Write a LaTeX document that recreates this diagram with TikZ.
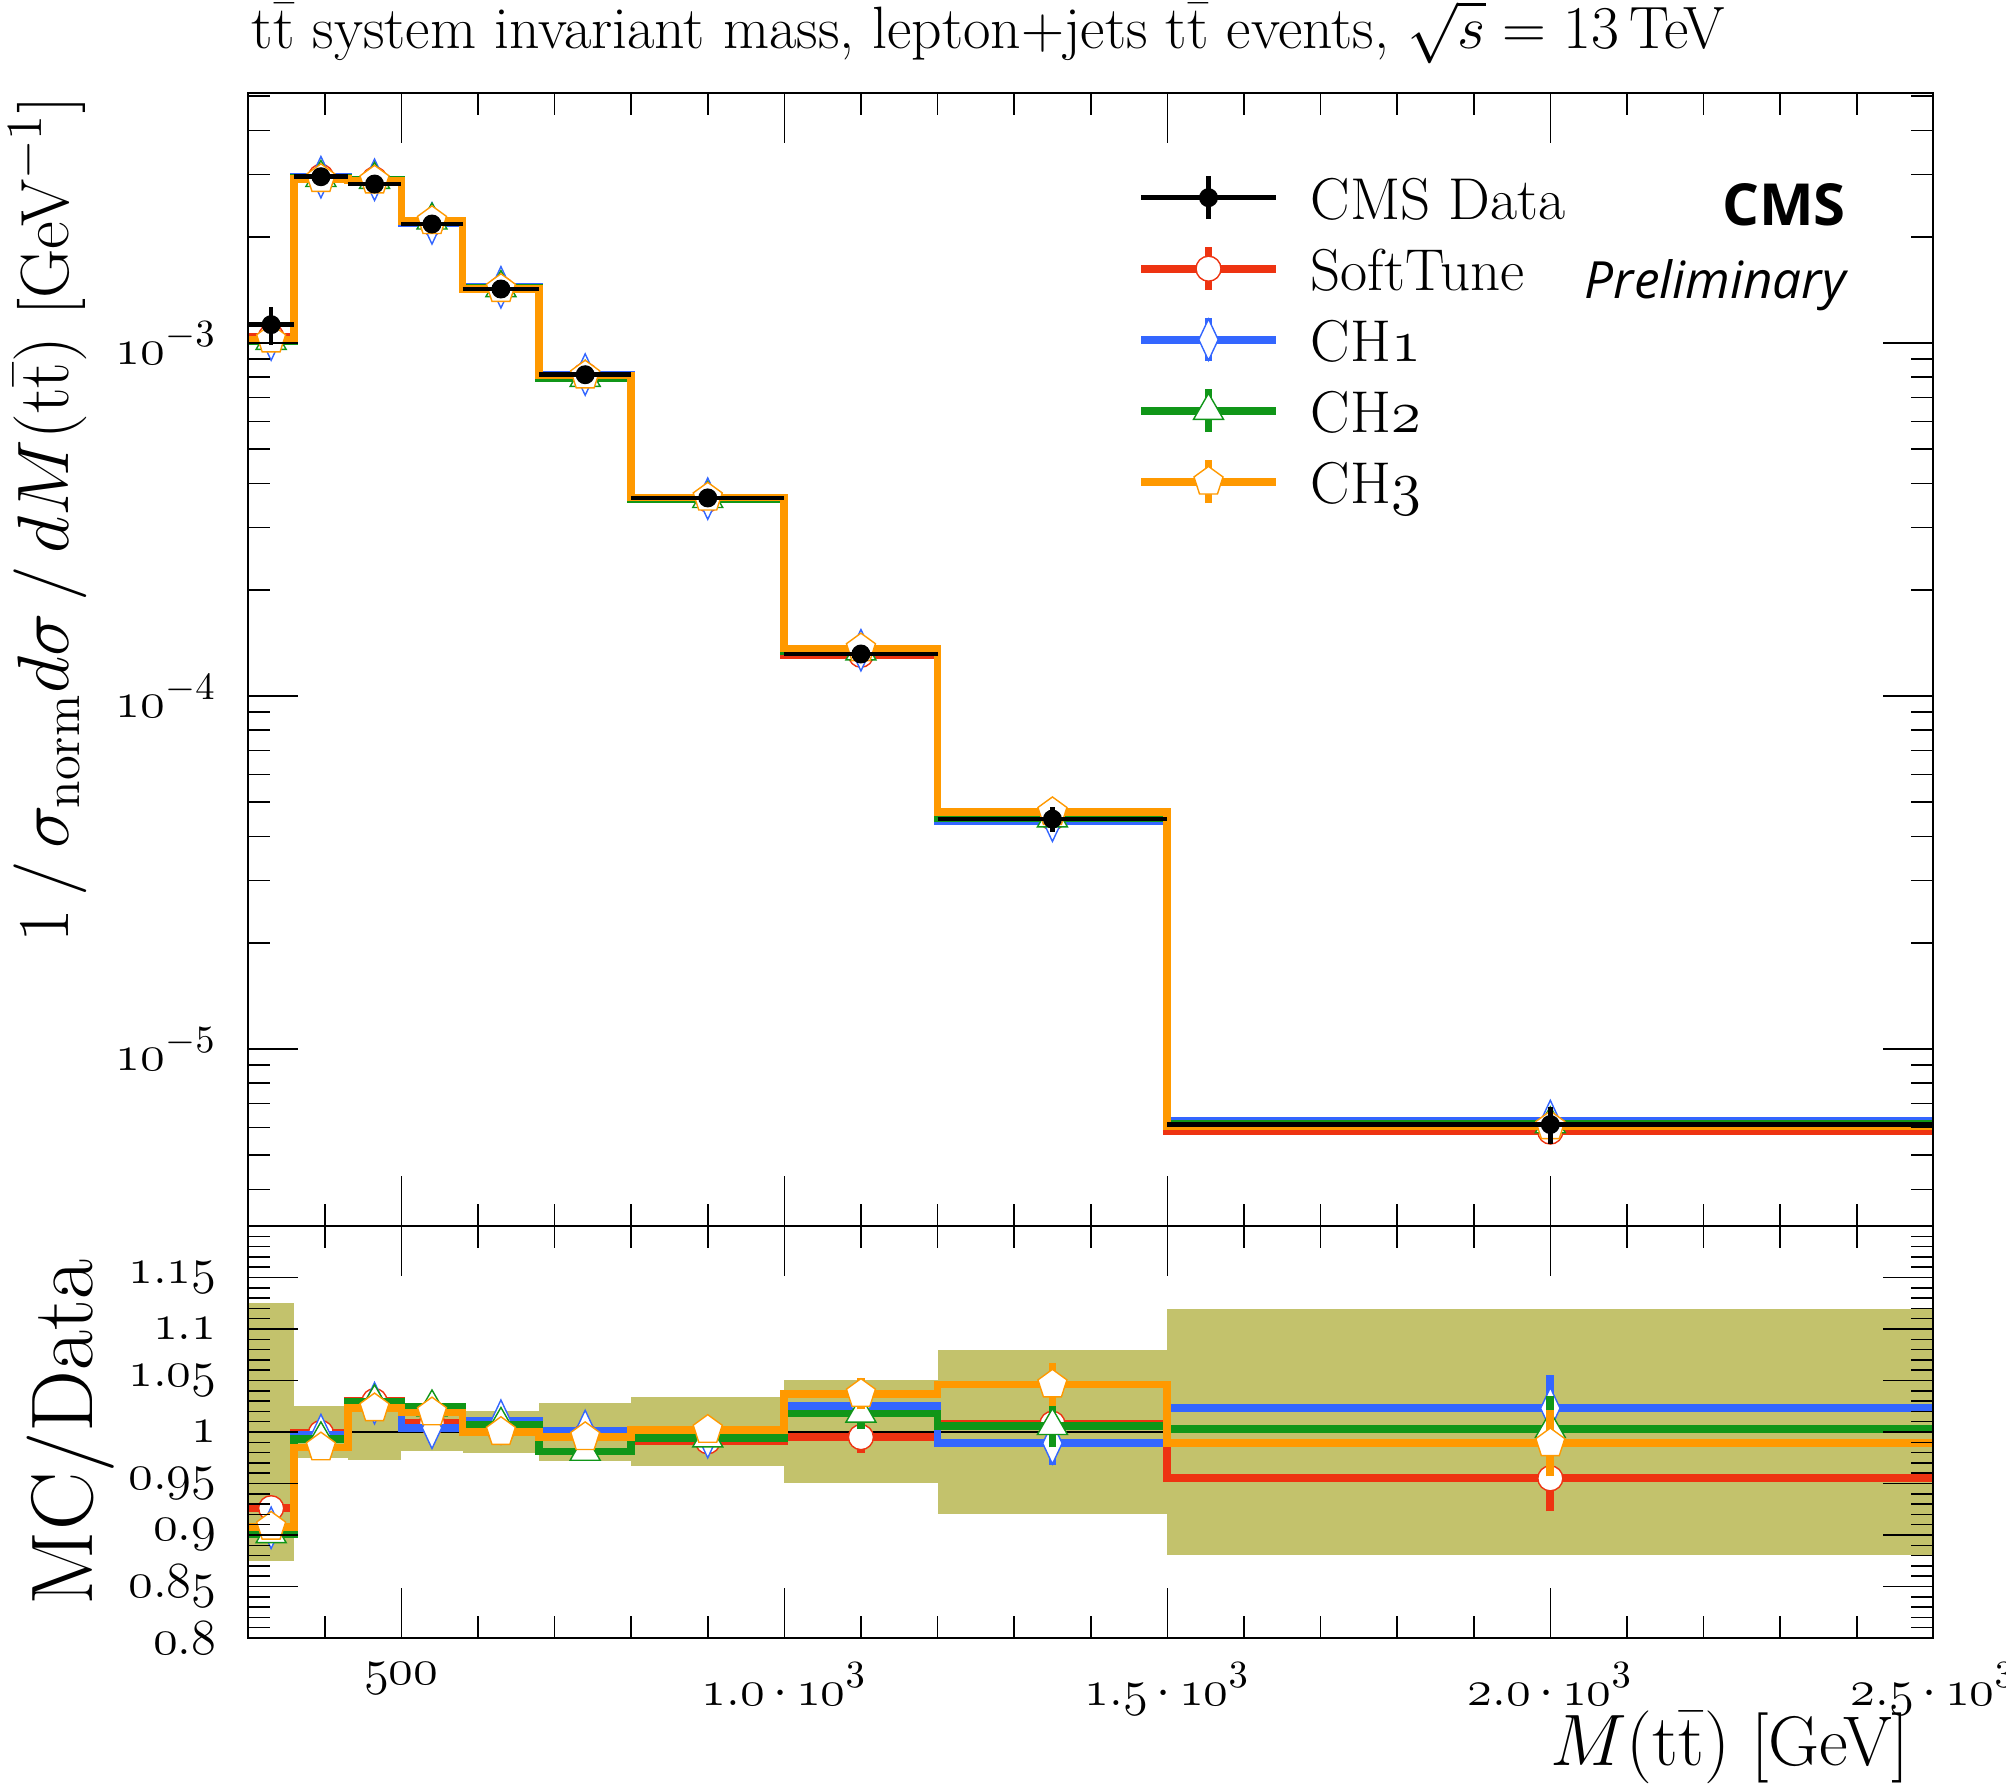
\documentclass[tikz,border=0pt]{standalone}
\usepackage[no-math]{fontspec}
\newfontfamily\cmsfont{Open Sans}
\usetikzlibrary{shapes.geometric}
\definecolor{softred}{RGB}{238,51,17}
\definecolor{chblue}{RGB}{51,102,255}
\definecolor{chgreen}{RGB}{16,150,24}
\definecolor{chorange}{RGB}{255,153,0}
\definecolor{bandcol}{RGB}{195,194,108}
\def\binedges{{300,360,430,500,580,680,800,1000,1200,1500,2500}}
\def\datav{{1127,2958,2820,2173,1422,813,364,131.5,44.8,6.11}}
\def\dataerr{{0.125,0.0255,0.027,0.0185,0.0205,0.028,0.0335,0.05,0.0795,0.119}}
\def\mcerr{{0.006,0.006,0.006,0.006,0.006,0.006,0.006,0.015,0.021,0.032}}
\def\rSoft{{0.926,0.999,1.030,1.009,1.000,0.996,0.991,0.995,1.008,0.955}}
\def\rCHa{{0.907,0.997,1.028,1.004,1.011,1.001,0.995,1.025,0.989,1.023}}
\def\rCHb{{0.901,0.993,1.029,1.024,1.007,0.981,0.994,1.018,1.006,1.003}}
\def\rCHc{{0.908,0.985,1.023,1.019,1.000,0.995,1.002,1.037,1.046,0.989}}
\def\ylo{0.4986}
\def\yhi{3.7082}
\newcommand\osf[1]{$\mathnormal{#1}$}
\newcommand\sci[1]{$\mathnormal{#1}\mkern3mu{\cdot}\mkern3mu\mathnormal{10}^{3}$}
% #1 = 1 for the log panel, 0 for the ratio panel
\newcommand\getbin[3]{%
  \pgfmathsetmacro\xa{\binedges[#2]}%
  \pgfmathsetmacro\xb{\binedges[#2+1]}%
  \pgfmathsetmacro\xc{0.5*\xa+0.5*\xb}%
  \pgfmathsetmacro\rr{#3[#2]}%
  \pgfmathsetmacro\vv{\datav[#2]}%
  \pgfmathsetmacro\ee{\mcerr[#2]}%
  \ifnum#1=1
    \pgfmathsetmacro\yy{log10(\vv*\rr)}%
    \pgfmathsetmacro\ylow{log10(\vv*\rr*(1-\ee))}%
    \pgfmathsetmacro\yup{log10(\vv*\rr*(1+\ee))}%
  \else
    \pgfmathsetmacro\yy{\rr}%
    \pgfmathsetmacro\ylow{\rr-\ee}%
    \pgfmathsetmacro\yup{\rr+\ee}%
  \fi}
\newcommand\mcseries[5]{%
  \foreach \i in {0,...,9}{
    \getbin{#1}{\i}{#3}
    \ifnum\i=0 \xdef\steppts{(\xa,\yy) -- (\xb,\yy)}%
    \else \xdef\steppts{\steppts -- (\xa,\yy) -- (\xb,\yy)}\fi
  }
  \draw[mc line, #2] \steppts;
  \foreach \i in {0,...,9}{
    \getbin{#1}{\i}{#3}
    \draw[mc line, #2] (\xc,\ylow) -- (\xc,\yup);
    \node[#4, draw=#2] (#5\i) at (\xc,\yy) {};
  }
}
\newcommand\legendrow[4]{%
  \draw[mc line, #2] ([xshift=-0.675cm]#1) -- ([xshift=0.675cm]#1);
  \draw[mc line, #2] ([yshift=-0.215cm]#1) -- ([yshift=0.215cm]#1);
  \node[#3, draw=#2] (#1mk) at (#1) {};
  \node[legend text, anchor=base west] (#1tx) at ([xshift=1.015cm,yshift=-0.223cm]#1) {#4};
}
\tikzset{
  frame line/.style={line width=0.6pt},
  tick line/.style={line width=0.45pt},
  mc line/.style={line width=0.077cm, line join=miter},
  data line/.style={line width=0.047cm},
  marker/.style={draw, fill=white, line width=0.4pt, inner sep=0pt},
  mk soft/.style={marker, circle, minimum size=0.25cm},
  mk ch1/.style={marker, diamond, minimum width=0.2cm, minimum height=0.42cm},
  mk ch2/.style={marker, regular polygon, regular polygon sides=3, minimum size=0.346cm},
  mk ch3/.style={marker, regular polygon, regular polygon sides=5, minimum size=0.305cm},
  mk data/.style={circle, fill=black, inner sep=0pt, minimum size=0.19cm},
  tick label/.style={inner sep=0pt, font=\fontsize{15}{17}\selectfont},
  legend text/.style={inner sep=0pt, font=\fontsize{16.8}{19}\selectfont},
  axis label/.style={inner sep=0pt, font=\fontsize{20}{22}\selectfont},
}

\begin{document}
\begin{tikzpicture}
  \useasboundingbox (0,0) rectangle (20.06,17.84);
  \node[inner sep=0pt, font=\fontsize{17}{19}\selectfont, anchor=base west] (title) at (2.51,17.35)
    {$\mathrm{t\bar{t}}$ system invariant mass, lepton+jets $\mathrm{t\bar{t}}$ events, $\sqrt{s} = 13$\,TeV};
  \begin{scope}[x=0.0076545cm, y=3.53cm, xshift=0.1836cm, yshift=3.82cm]
    \begin{scope}
      \clip (300,\ylo) rectangle (2500,\yhi);
      \mcseries{1}{softred}{\rSoft}{mk soft}{us}
      \mcseries{1}{chblue}{\rCHa}{mk ch1}{ua}
      \mcseries{1}{chgreen}{\rCHb}{mk ch2}{ub}
      \mcseries{1}{chorange}{\rCHc}{mk ch3}{uc}
      \foreach \i in {0,...,9}{
        \pgfmathsetmacro\xa{\binedges[\i]}
        \pgfmathsetmacro\xb{\binedges[\i+1]}
        \pgfmathsetmacro\xc{0.5*\xa+0.5*\xb}
        \pgfmathsetmacro\vv{\datav[\i]}
        \pgfmathsetmacro\ee{\dataerr[\i]}
        \pgfmathsetmacro\yy{log10(\vv)}
        \draw[data line] (\xa,\yy) -- (\xb,\yy);
        \draw[data line] (\xc,{log10(\vv*(1-\ee))}) -- (\xc,{log10(\vv*(1+\ee))});
        \node[mk data] (dat\i) at (\xc,\yy) {};
      }
    \end{scope}
    \foreach \m in {300,400,...,2500}{
      \draw[tick line] (\m,\yhi) -- ++(0,-0.22cm);
      \draw[tick line] (\m,\ylo) -- ++(0,0.22cm);
    }
    \foreach \m in {500,1000,...,2500}{
      \draw[tick line] (\m,\yhi) -- ++(0,-0.5cm);
      \draw[tick line] (\m,\ylo) -- ++(0,0.5cm);
    }
    \foreach \t in {4,5,...,9,20,30,...,90,200,300,...,900,2000,3000,4000,5000}{
      \draw[tick line] (300,{log10(\t)}) -- ++(0.22cm,0);
      \draw[tick line] (2500,{log10(\t)}) -- ++(-0.22cm,0);
    }
    \foreach \t/\p in {10/5,100/4,1000/3}{
      \draw[tick line] (300,{log10(\t)}) -- ++(0.5cm,0);
      \draw[tick line] (2500,{log10(\t)}) -- ++(-0.5cm,0);
      \node[tick label, anchor=east] (ylab\p) at ([xshift=-0.31cm]300,{log10(\t)}) {$\mathnormal{10}^{-\p}$};
    }
    \draw[frame line] (300,\ylo) rectangle (2500,\yhi);
  \end{scope}
  \begin{scope}[x=0.0076545cm, y=10.3cm, xshift=0.1836cm, yshift=-6.78cm]
    \begin{scope}
      \clip (300,0.8) rectangle (2500,1.2);
      \foreach \i in {0,...,9}{
        \pgfmathsetmacro\xa{\binedges[\i]}
        \pgfmathsetmacro\xb{\binedges[\i+1]}
        \pgfmathsetmacro\ee{\dataerr[\i]}
        \fill[bandcol] (\xa,{1-\ee}) rectangle (\xb,{1+\ee});
      }
      \draw[line width=0.4pt] (300,1) -- (2500,1);
      \mcseries{0}{softred}{\rSoft}{mk soft}{rs}
      \mcseries{0}{chblue}{\rCHa}{mk ch1}{ra}
      \mcseries{0}{chgreen}{\rCHb}{mk ch2}{rb}
      \mcseries{0}{chorange}{\rCHc}{mk ch3}{rc}
    \end{scope}
    \foreach \m in {300,400,...,2500}{
      \draw[tick line] (\m,1.2) -- ++(0,-0.22cm);
      \draw[tick line] (\m,0.8) -- ++(0,0.22cm);
    }
    \foreach \m in {500,1000,...,2500}{
      \draw[tick line] (\m,1.2) -- ++(0,-0.5cm);
      \draw[tick line] (\m,0.8) -- ++(0,0.5cm);
    }
    \foreach \k in {81,...,119}{
      \draw[tick line] (300,\k/100) -- ++(0.22cm,0);
      \draw[tick line] (2500,\k/100) -- ++(-0.22cm,0);
    }
    \foreach \k in {85,90,...,115}{
      \draw[tick line] (300,\k/100) -- ++(0.5cm,0);
      \draw[tick line] (2500,\k/100) -- ++(-0.5cm,0);
    }
    \foreach \k in {0.8,0.85,0.9,0.95,1,1.05,1.1,1.15}
      \node[tick label, anchor=east] at ([xshift=-0.31cm]300,\k) {\osf{\k}};
    \foreach \m/\lab in {500/\osf{500},1000/\sci{1.0},1500/\sci{1.5},2000/\sci{2.0},2500/\sci{2.5}}
      \node[tick label, anchor=north] at ([yshift=-0.24cm]\m,0.8) {\lab};
    \draw[frame line] (300,0.8) rectangle (2500,1.2);
  \end{scope}
  \coordinate (lgdata) at (12.085,15.863);
  \coordinate (lgsoft) at (12.085,15.153);
  \coordinate (lgcha) at (12.085,14.443);
  \coordinate (lgchb) at (12.085,13.733);
  \coordinate (lgchc) at (12.085,13.023);
  \draw[data line] ([xshift=-0.675cm]lgdata) -- ([xshift=0.675cm]lgdata);
  \draw[data line] ([yshift=-0.215cm]lgdata) -- ([yshift=0.215cm]lgdata);
  \node[mk data] (lgdatamk) at (lgdata) {};
  \node[legend text, anchor=base west] (lgdatatx) at ([xshift=1.015cm,yshift=-0.223cm]lgdata) {CMS Data};
  \legendrow{lgsoft}{softred}{mk soft}{SoftTune}
  \legendrow{lgcha}{chblue}{mk ch1}{CH\osf{1}}
  \legendrow{lgchb}{chgreen}{mk ch2}{CH\osf{2}}
  \legendrow{lgchc}{chorange}{mk ch3}{CH\osf{3}}
  \node[inner sep=0pt, anchor=base east, font=\cmsfont\bfseries\fontsize{16.5}{18}\selectfont] (cms) at (18.465,15.58) {CMS};
  \node[inner sep=0pt, anchor=base east, font=\cmsfont\itshape\fontsize{14.6}{17}\selectfont] (prelim) at (18.465,14.855) {Preliminary};
  \node[axis label, anchor=base east] (xlabel) at (19.10,0.18) {$M(\mathrm{t\bar{t}})$ [GeV]};
  \node[axis label, rotate=90, anchor=base east, font=\fontsize{19.4}{21}\selectfont] (ylabel) at (0.683,16.88)
    {$1\,/\,\sigma_{\mathrm{norm}}d\sigma\,/\,dM(\mathrm{t\bar{t}})$ [GeV$^{-1}$]};
  \node[inner sep=0pt, rotate=90, anchor=base, font=\fontsize{24.9}{27}\selectfont] (rlabel) at (0.93,3.52) {MC/Data};
\end{tikzpicture}
\end{document}
